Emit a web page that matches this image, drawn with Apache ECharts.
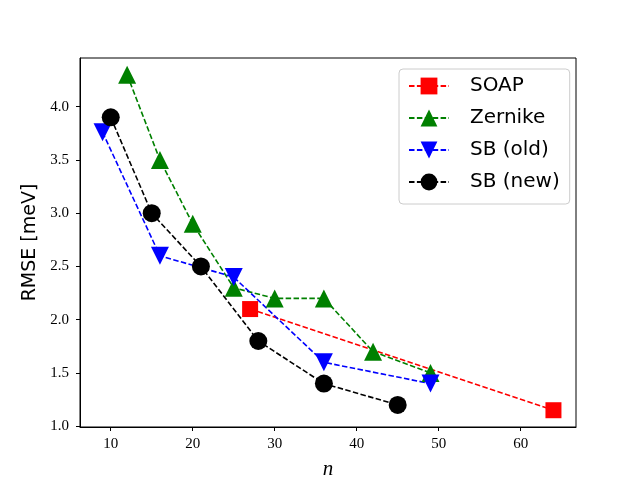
<!DOCTYPE html>
<html lang="en">
<head>
  <meta charset="UTF-8">
  <title>RMSE vs n</title>
  <script src="https://cdn.jsdelivr.net/npm/echarts@6/dist/echarts.min.js"></script>
  <style>
    html, body { margin: 0; padding: 0; background: #fff; }
    #chart { width: 640px; height: 480px; }
  </style>
</head>
<body>
  <div id="chart"></div>
</body>
</html>
<script>
  // values
  const soapN = [27, 64];
  const soapRmse = [2.1, 1.15];
  const zernikeN = [12, 16, 20, 25, 30, 36, 42, 49];
  const zernikeRmse = [4.3, 3.5, 2.9, 2.3, 2.2, 2.2, 1.7, 1.5];
  const sbOldN = [9, 16, 25, 36, 49];
  const sbOldRmse = [3.76, 2.6, 2.4, 1.6, 1.4];
  const sbNewN = [10, 15, 21, 28, 36, 45];
  const sbNewRmse = [3.9, 3.0, 2.5, 1.8, 1.4, 1.2];
  const xTicks = [10, 20, 30, 40, 50, 60];
  const yTicks = [1.0, 1.5, 2.0, 2.5, 3.0, 3.5, 4.0];

  const pair = (xs, ys) => xs.map((x, i) => [x, ys[i]]);
  const dash = [5.5, 2.4];
  const serif = 'Liberation Serif';

  function line(name, xs, ys, color, symbol, size, rotate) {
    return {
      name: name,
      type: 'line',
      data: pair(xs, ys),
      symbol: symbol,
      symbolSize: size,
      symbolRotate: rotate || 0,
      showAllSymbol: true,
      itemStyle: { color: color },
      lineStyle: { color: color, width: 1.6, type: dash },
      animation: false
    };
  }

  let chart = echarts.init(document.getElementById('chart'));

  chart.setOption({
    backgroundColor: '#fff',
    grid: {
      left: 80, right: 64, top: 58, bottom: 53,
      outerBoundsMode: 'none',
      containLabel: false,
      show: true, borderColor: '#000', borderWidth: 1
    },
    legend: {
      orient: 'vertical',
      left: 399, top: 69,
      padding: [7, 10, 12, 9],
      itemWidth: 40, itemHeight: 21,
      itemGap: 12,
      borderColor: '#ccc', borderWidth: 1, borderRadius: 4,
      backgroundColor: 'rgba(255,255,255,0.8)',
      textStyle: {
        fontFamily: 'DejaVu Sans', fontSize: 20, color: '#000',
        padding: [0, 0, 0, 16]
      },
      data: ['SOAP', 'Zernike', 'SB (old)', 'SB (new)']
    },
    xAxis: {
      type: 'value',
      min: 6.25, max: 66.75,
      name: 'n',
      nameLocation: 'middle',
      nameGap: 32,
      nameTextStyle: { fontFamily: serif, fontStyle: 'italic', fontSize: 21, color: '#000' },
      axisLine: { lineStyle: { color: '#000' } },
      axisTick: { show: true, length: 4, customValues: xTicks, lineStyle: { color: '#000' } },
      axisLabel: { customValues: xTicks, fontFamily: serif, fontSize: 15, color: '#000', margin: 10 },
      splitLine: { show: false }
    },
    yAxis: {
      type: 'value',
      min: 0.9925, max: 4.4575,
      name: 'RMSE [meV]',
      nameLocation: 'middle',
      nameGap: 40,
      nameTextStyle: { fontFamily: 'DejaVu Sans', fontSize: 19, color: '#000' },
      axisLine: { show: true, lineStyle: { color: '#000' } },
      axisTick: { show: true, length: 4, customValues: yTicks, lineStyle: { color: '#000' } },
      axisLabel: {
        customValues: yTicks, fontFamily: serif, fontSize: 15, color: '#000', margin: 11,
        formatter: v => v.toFixed(1)
      },
      splitLine: { show: false }
    },
    series: [
      line('SOAP', soapN, soapRmse, '#ff0000', 'rect', 16),
      line('Zernike', zernikeN, zernikeRmse, '#008000', 'triangle', 18),
      line('SB (old)', sbOldN, sbOldRmse, '#0000ff', 'triangle', 18, 180),
      line('SB (new)', sbNewN, sbNewRmse, '#000000', 'circle', 18)
    ]
  });
</script>
